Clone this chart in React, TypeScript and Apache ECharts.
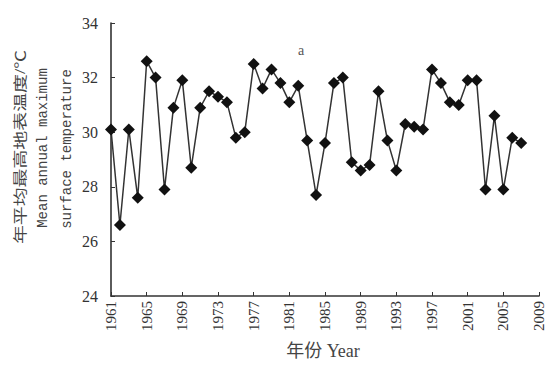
import React, { useEffect, useRef } from "react";
import * as echarts from "echarts";

const years = [
  1961, 1962, 1963, 1964, 1965, 1966, 1967, 1968, 1969, 1970,
  1971, 1972, 1973, 1974, 1975, 1976, 1977, 1978, 1979, 1980,
  1981, 1982, 1983, 1984, 1985, 1986, 1987, 1988, 1989, 1990,
  1991, 1992, 1993, 1994, 1995, 1996, 1997, 1998, 1999, 2000,
  2001, 2002, 2003, 2004, 2005, 2006, 2007,
];
const temps = [
  30.1, 26.6, 30.1, 27.6, 32.6, 32.0, 27.9, 30.9, 31.9, 28.7,
  30.9, 31.5, 31.3, 31.1, 29.8, 30.0, 32.5, 31.6, 32.3, 31.8,
  31.1, 31.7, 29.7, 27.7, 29.6, 31.8, 32.0, 28.9, 28.6, 28.8,
  31.5, 29.7, 28.6, 30.3, 30.2, 30.1, 32.3, 31.8, 31.1, 31.0,
  31.9, 31.9, 27.9, 30.6, 27.9, 29.8, 29.6,
];
const xStartYear = 1961;
const xEndYear = 2009;
const xStep = 4;
const yMin = 24;
const yMax = 34;
const yStep = 2;

const yTitleCn = "年平均最高地表温度/℃";
const yTitleEn1 = "Mean annual maximum";
const yTitleEn2 = "surface temperature";
const xTitle = "年份 Year";
const panelLabel = "a";

const SERIF = "'Liberation Serif', 'DejaVu Serif', 'Noto Sans CJK SC', serif";
const CJK = "'Liberation Serif', 'Noto Sans CJK SC', serif";
const MONO = "'Liberation Mono', 'DejaVu Sans Mono', monospace";

export default function App() {
  const ref = useRef<HTMLDivElement>(null);
  useEffect(() => {
    if (!ref.current) return;
    const chart = echarts.init(ref.current, null, { renderer: "svg" });
    const axisColor = "#333";
    chart.setOption({
      animation: false,
      backgroundColor: "#fff",
      grid: { left: 111, right: 8, top: 23, bottom: 73, containLabel: false },
      xAxis: {
        type: "value",
        min: 0,
        max: xEndYear - xStartYear,
        interval: xStep,
        splitLine: { show: false },
        axisLine: { show: true, lineStyle: { color: axisColor, width: 1.6 } },
        axisTick: { show: true, inside: true, length: 4, lineStyle: { color: axisColor } },
        axisLabel: {
          rotate: 90,
          margin: 5,
          fontSize: 15,
          color: "#333",
          fontFamily: SERIF,
          formatter: (v: number) => String(xStartYear + v),
        },
      },
      yAxis: {
        type: "value",
        min: yMin,
        max: yMax,
        interval: yStep,
        splitLine: { show: false },
        axisLine: { show: true, lineStyle: { color: axisColor, width: 1.6 } },
        axisTick: { show: true, inside: true, length: 4, lineStyle: { color: axisColor } },
        axisLabel: { margin: 13, fontSize: 16, color: "#333", fontFamily: SERIF },
      },
      series: [
        {
          type: "line",
          data: years.map((y, i) => [y - xStartYear, temps[i]]),
          symbol: "diamond",
          symbolSize: 12,
          lineStyle: { color: "#333", width: 1.5 },
          itemStyle: { color: "#111" },
        },
      ],
      graphic: [
        {
          type: "text",
          x: 20,
          y: 147,
          rotation: Math.PI / 2,
          scaleX: 1.35,
          style: {
            text: yTitleCn,
            font: `14px ${CJK}`,
            fill: "#444",
            align: "center",
            verticalAlign: "middle",
          },
        },
        {
          type: "text",
          x: 43,
          y: 148,
          rotation: Math.PI / 2,
          style: {
            text: yTitleEn1,
            font: `14px ${MONO}`,
            fill: "#444",
            align: "center",
            verticalAlign: "middle",
          },
        },
        {
          type: "text",
          x: 67,
          y: 149,
          rotation: Math.PI / 2,
          style: {
            text: yTitleEn2,
            font: `14px ${MONO}`,
            fill: "#444",
            align: "center",
            verticalAlign: "middle",
          },
        },
        {
          type: "text",
          x: 323,
          y: 351,
          style: {
            text: xTitle,
            font: `18px ${CJK}`,
            fill: "#444",
            align: "center",
            verticalAlign: "middle",
          },
        },
        {
          type: "text",
          x: 301,
          y: 50,
          style: {
            text: panelLabel,
            font: `14px ${SERIF}`,
            fill: "#555",
            align: "center",
            verticalAlign: "middle",
          },
        },
      ],
    });
    return () => chart.dispose();
  }, []);
  return <div ref={ref} style={{ width: 547, height: 369, position: "absolute", left: 0, top: 0 }} />;
}
